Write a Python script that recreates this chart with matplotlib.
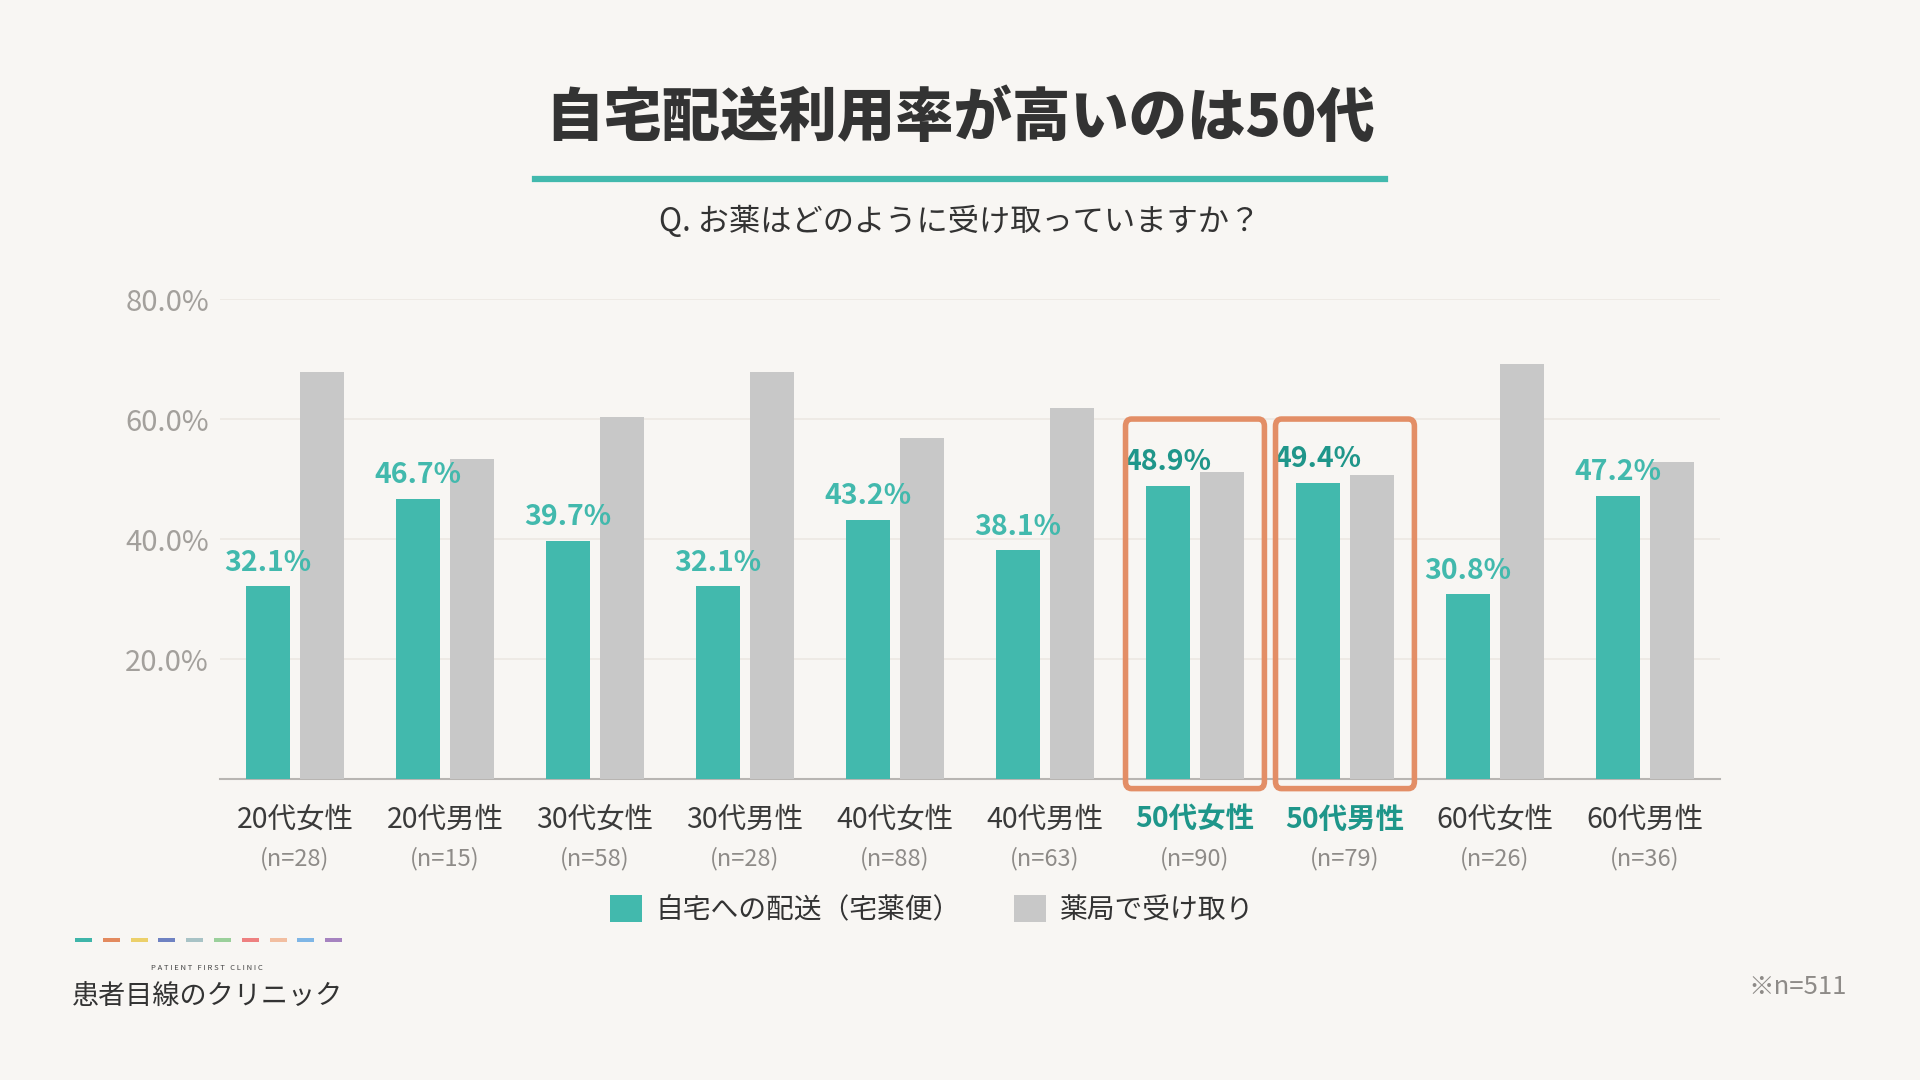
import numpy as np
import matplotlib.pyplot as plt
from matplotlib.patches import FancyBboxPatch, Patch, Rectangle

plt.rcParams['font.family'] = ['Noto Sans CJK JP', 'DejaVu Sans']

# datos del gráfico
grupos = ['20代女性', '20代男性', '30代女性', '30代男性', '40代女性',
          '40代男性', '50代女性', '50代男性', '60代女性', '60代男性']
muestras = ['(n=28)', '(n=15)', '(n=58)', '(n=28)', '(n=88)',
            '(n=63)', '(n=90)', '(n=79)', '(n=26)', '(n=36)']
domicilio = [32.1, 46.7, 39.7, 32.1, 43.2, 38.1, 48.9, 49.4, 30.8, 47.2]
farmacia = [67.9, 53.3, 60.3, 67.9, 56.8, 61.9, 51.1, 50.6, 69.2, 52.8]
destacados = ['50代女性', '50代男性']
yticks = [20, 40, 60, 80]

fondo = '#f8f6f3'
verde = '#42b9ad'
verde_osc = '#1f968a'
gris = '#c8c8c8'
naranja = '#e38e66'

fig = plt.figure(figsize=(19.2, 10.8), dpi=100, facecolor=fondo)
ax = fig.add_axes([0.1146, 0.2787, 0.7812, 0.4444])
ax.set_facecolor(fondo)

x = np.arange(len(grupos))
ancho = 0.294
desp = 0.18
ax.bar(x - desp, domicilio, ancho, color=verde, zorder=3)
ax.bar(x + desp, farmacia, ancho, color=gris, zorder=3)

ax.set_xlim(-0.5, len(grupos) - 0.5)
ax.set_ylim(0, 80)
ax.set_yticks(yticks)
ax.set_yticklabels([f'{v:.1f}%' for v in yticks], fontsize=21, color='#a3a09c')
ax.tick_params(axis='y', length=0, pad=8)
ax.set_xticks([])
ax.grid(axis='y', color='#ece8e3', linewidth=1.2, zorder=0)
for lado in ['top', 'right', 'left']:
    ax.spines[lado].set_visible(False)
ax.spines['bottom'].set_color('#b8b5b2')
ax.spines['bottom'].set_linewidth(1.5)

# etiquetas de valores
for i, v in enumerate(domicilio):
    col = verde_osc if grupos[i] in destacados else verde
    ax.annotate(f'{v}%', (x[i] - desp, v), xytext=(0, 7), textcoords='offset points',
                ha='center', va='bottom', fontsize=20.5, fontweight='bold', color=col, zorder=5)

# etiquetas del eje x
tr = ax.get_xaxis_transform()
for i, g in enumerate(grupos):
    if g in destacados:
        ax.text(x[i], -0.085, g, transform=tr, ha='center', va='center',
                fontsize=20.5, fontweight='bold', color=verde_osc)
    else:
        ax.text(x[i], -0.085, g, transform=tr, ha='center', va='center',
                fontsize=20.5, color='#3a3a3a')
    ax.text(x[i], -0.165, muestras[i], transform=tr, ha='center', va='center',
            fontsize=17, color='#8e8b88')

# recuadros naranjas
for g in destacados:
    i = grupos.index(g)
    caja = FancyBboxPatch((x[i] - 0.463, -1.6), 0.926, 61.6,
                          boxstyle='round,pad=0,rounding_size=0.04', mutation_aspect=30,
                          fill=False, edgecolor=naranja, linewidth=4, clip_on=False, zorder=6)
    ax.add_patch(caja)

# títulos
fig.text(0.5, 1 - 119 / 1080, '自宅配送利用率が高いのは50代', ha='center', va='center',
         fontsize=42, fontweight='black', color='#333333')
fig.add_artist(plt.Line2D([535 / 1920, 1385 / 1920], [1 - 179 / 1080] * 2,
                          color=verde, linewidth=4.5))
fig.text(0.5, 1 - 222 / 1080, 'Q. お薬はどのように受け取っていますか？', ha='center', va='center',
         fontsize=22.5, color='#333333')

# leyenda
handles = [Patch(facecolor=verde, label='自宅への配送（宅薬便）'),
           Patch(facecolor=gris, label='薬局で受け取り')]
fig.legend(handles=handles, loc='center', bbox_to_anchor=(932 / 1920, 1 - 910 / 1080),
           ncol=2, frameon=False, fontsize=20, handlelength=1.15, handleheight=1.15,
           handletextpad=0.5, columnspacing=1.9, labelcolor='#333333')

# logotipo
colores_logo = ['#3fb5a9', '#e38a5e', '#ecd06a', '#6f82c2', '#a8c3c6',
                '#9bd09b', '#ee8080', '#f2bea0', '#7fb6e6', '#a683c0']
for k, c in enumerate(colores_logo):
    fig.add_artist(Rectangle(((75 + k * 27.8) / 1920, 1 - 942 / 1080), 17 / 1920, 4 / 1080,
                             facecolor=c, edgecolor='none'))
fig.text(207 / 1920, 1 - 968 / 1080, 'P A T I E N T   F I R S T   C L I N I C', ha='center',
         va='center', fontsize=5.5, color='#444444')
fig.text(208 / 1920, 1 - 996 / 1080, '患者目線のクリニック', ha='center', va='center',
         fontsize=19.5, color='#333333')

fig.text(1847 / 1920, 1 - 987 / 1080, '※n=511', ha='right', va='center',
         fontsize=18.5, color='#8e8b88')

fig.savefig('out.png', dpi=100, facecolor=fondo)
